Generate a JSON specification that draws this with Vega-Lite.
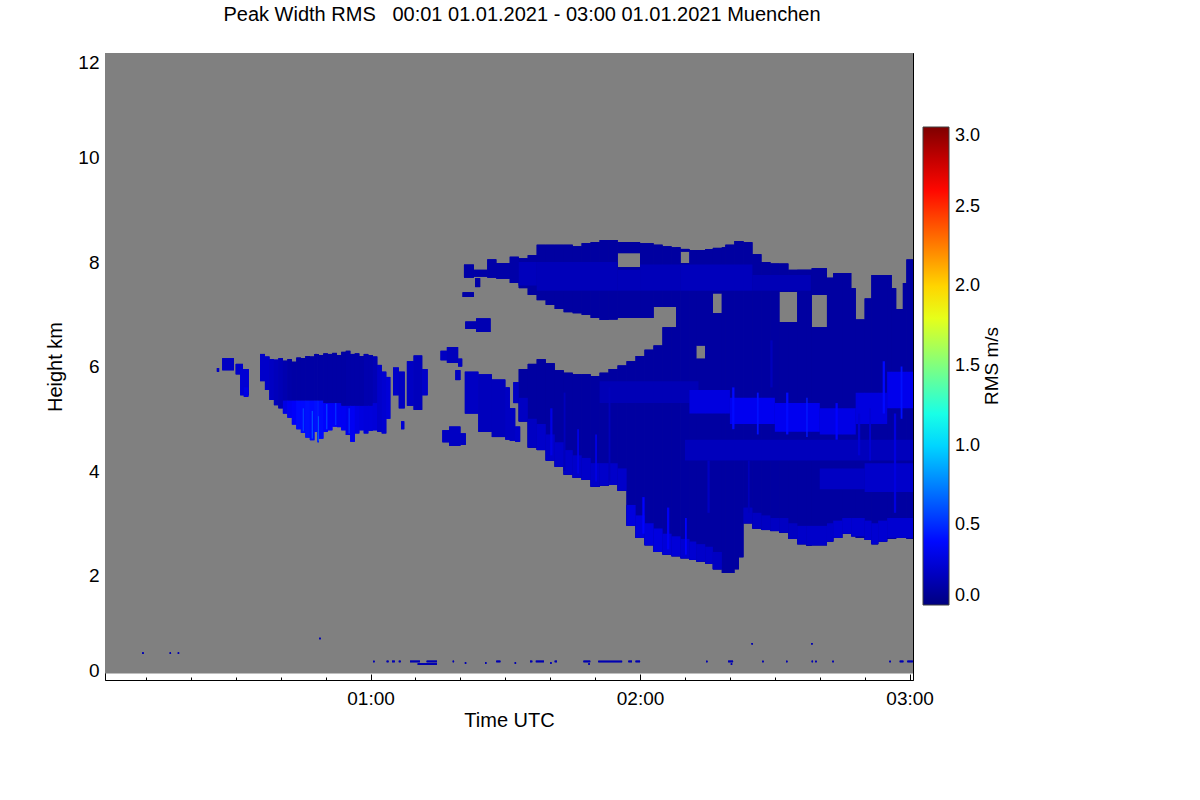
{
  "$schema": "https://vega.github.io/schema/vega-lite/v6.json",
  "description": "Peak Width RMS time-height plot, Muenchen 01.01.2021",
  "width": 808,
  "height": 627,
  "autosize": "none",
  "padding": {"left": 105, "top": 53, "right": 287, "bottom": 120},
  "background": "white",
  "title": {
    "text": "Peak Width RMS\u00a0\u00a0\u00a000:01 01.01.2021 - 03:00 01.01.2021 Muenchen",
    "font": "Liberation Sans",
    "fontSize": 20,
    "fontWeight": "normal",
    "color": "black",
    "anchor": "middle",
    "frame": "group",
    "baseline": "alphabetic",
    "offset": 12,
    "dx": 13
  },
  "config": {
    "font": "Liberation Sans",
    "view": {"stroke": null},
    "axis": {
      "domainColor": "black",
      "domainWidth": 1,
      "tickColor": "black",
      "tickWidth": 1,
      "labelColor": "black",
      "titleColor": "black",
      "labelFont": "Liberation Sans",
      "titleFont": "Liberation Sans",
      "titleFontWeight": "normal",
      "grid": false
    }
  },
  "datasets": {
    "cloud": [
      {"t0": 27.0, "t1": 29.6, "h0": 5.93, "h1": 6.16, "v": 0.2},
      {"t0": 25.8, "t1": 26.3, "h0": 5.9, "h1": 5.97, "v": 0.2},
      {"t0": 30.0, "t1": 31.6, "h0": 5.85, "h1": 6.05, "v": 0.22},
      {"t0": 31.0, "t1": 32.9, "h0": 5.45, "h1": 5.95, "v": 0.25},
      {"t0": 31.8, "t1": 32.8, "h0": 5.42, "h1": 5.6, "v": 0.3},

      {"t0": 35.4, "t1": 36.5, "h0": 5.72, "h1": 6.24, "v": 0.22},
      {"t0": 36.5, "t1": 37.5, "h0": 5.55, "h1": 6.19, "v": 0.22},
      {"t0": 37.5, "t1": 38.5, "h0": 5.36, "h1": 6.14, "v": 0.2},
      {"t0": 38.5, "t1": 39.5, "h0": 5.26, "h1": 6.13, "v": 0.18},
      {"t0": 39.5, "t1": 40.5, "h0": 5.2, "h1": 6.16, "v": 0.16},
      {"t0": 40.5, "t1": 41.5, "h0": 5.1, "h1": 5.35, "v": 0.3},
      {"t0": 40.5, "t1": 41.5, "h0": 5.35, "h1": 6.11, "v": 0.14},
      {"t0": 41.5, "t1": 42.5, "h0": 5.02, "h1": 5.35, "v": 0.34},
      {"t0": 41.5, "t1": 42.5, "h0": 5.35, "h1": 6.14, "v": 0.12},
      {"t0": 42.5, "t1": 43.5, "h0": 4.89, "h1": 5.35, "v": 0.36},
      {"t0": 42.5, "t1": 43.5, "h0": 5.35, "h1": 6.09, "v": 0.11},
      {"t0": 43.5, "t1": 44.5, "h0": 4.8, "h1": 5.35, "v": 0.4},
      {"t0": 43.5, "t1": 44.5, "h0": 5.35, "h1": 6.17, "v": 0.11},
      {"t0": 44.5, "t1": 45.5, "h0": 4.73, "h1": 5.35, "v": 0.4},
      {"t0": 44.5, "t1": 45.5, "h0": 5.35, "h1": 6.16, "v": 0.11},
      {"t0": 45.5, "t1": 46.5, "h0": 4.64, "h1": 5.35, "v": 0.42},
      {"t0": 45.5, "t1": 46.5, "h0": 5.35, "h1": 6.2, "v": 0.11},
      {"t0": 46.5, "t1": 47.5, "h0": 4.59, "h1": 5.35, "v": 0.4},
      {"t0": 46.5, "t1": 47.5, "h0": 5.35, "h1": 6.19, "v": 0.11},
      {"t0": 47.5, "t1": 48.2, "h0": 4.75, "h1": 5.35, "v": 0.42},
      {"t0": 47.5, "t1": 48.2, "h0": 5.35, "h1": 6.24, "v": 0.11},
      {"t0": 48.2, "t1": 48.5, "h0": 4.55, "h1": 5.35, "v": 0.45},
      {"t0": 48.2, "t1": 48.5, "h0": 5.35, "h1": 6.24, "v": 0.11},
      {"t0": 48.5, "t1": 49.5, "h0": 4.62, "h1": 5.35, "v": 0.4},
      {"t0": 48.5, "t1": 49.5, "h0": 5.35, "h1": 6.22, "v": 0.11},
      {"t0": 49.5, "t1": 50.5, "h0": 4.75, "h1": 5.3, "v": 0.38},
      {"t0": 49.5, "t1": 50.5, "h0": 5.3, "h1": 6.25, "v": 0.11},
      {"t0": 50.5, "t1": 51.5, "h0": 4.78, "h1": 5.3, "v": 0.36},
      {"t0": 50.5, "t1": 51.5, "h0": 5.3, "h1": 6.24, "v": 0.11},
      {"t0": 51.5, "t1": 52.5, "h0": 4.85, "h1": 5.3, "v": 0.36},
      {"t0": 51.5, "t1": 52.5, "h0": 5.3, "h1": 6.26, "v": 0.11},
      {"t0": 52.5, "t1": 53.5, "h0": 4.84, "h1": 5.3, "v": 0.34},
      {"t0": 52.5, "t1": 53.5, "h0": 5.3, "h1": 6.22, "v": 0.11},
      {"t0": 53.5, "t1": 54.5, "h0": 4.78, "h1": 5.25, "v": 0.34},
      {"t0": 53.5, "t1": 54.5, "h0": 5.25, "h1": 6.28, "v": 0.11},
      {"t0": 54.5, "t1": 55.5, "h0": 4.69, "h1": 5.25, "v": 0.32},
      {"t0": 54.5, "t1": 55.5, "h0": 5.25, "h1": 6.3, "v": 0.12},
      {"t0": 55.5, "t1": 56.5, "h0": 4.56, "h1": 5.25, "v": 0.34},
      {"t0": 55.5, "t1": 56.5, "h0": 5.25, "h1": 6.24, "v": 0.12},
      {"t0": 56.5, "t1": 57.5, "h0": 4.72, "h1": 5.25, "v": 0.3},
      {"t0": 56.5, "t1": 57.5, "h0": 5.25, "h1": 6.25, "v": 0.12},
      {"t0": 57.5, "t1": 58.5, "h0": 4.78, "h1": 5.25, "v": 0.28},
      {"t0": 57.5, "t1": 58.5, "h0": 5.25, "h1": 6.2, "v": 0.12},
      {"t0": 58.5, "t1": 59.5, "h0": 4.72, "h1": 5.25, "v": 0.27},
      {"t0": 58.5, "t1": 59.5, "h0": 5.25, "h1": 6.24, "v": 0.14},
      {"t0": 59.5, "t1": 60.5, "h0": 4.77, "h1": 5.25, "v": 0.27},
      {"t0": 59.5, "t1": 60.5, "h0": 5.25, "h1": 6.22, "v": 0.14},
      {"t0": 60.5, "t1": 61.5, "h0": 4.78, "h1": 5.3, "v": 0.26},
      {"t0": 60.5, "t1": 61.5, "h0": 5.3, "h1": 6.19, "v": 0.16},
      {"t0": 61.5, "t1": 62.5, "h0": 4.75, "h1": 6.03, "v": 0.22},
      {"t0": 62.5, "t1": 63.5, "h0": 4.72, "h1": 5.9, "v": 0.24},
      {"t0": 63.5, "t1": 64.4, "h0": 5.0, "h1": 5.8, "v": 0.26},
      {"t0": 44.9, "t1": 45.2, "h0": 4.76, "h1": 5.2, "v": 0.55},
      {"t0": 46.9, "t1": 47.2, "h0": 4.62, "h1": 5.15, "v": 0.6},
      {"t0": 48.3, "t1": 48.5, "h0": 4.58, "h1": 5.05, "v": 0.65},
      {"t0": 50.1, "t1": 50.4, "h0": 4.8, "h1": 5.28, "v": 0.55},
      {"t0": 52.1, "t1": 52.4, "h0": 4.88, "h1": 5.3, "v": 0.5},
      {"t0": 55.1, "t1": 55.4, "h0": 4.72, "h1": 5.2, "v": 0.5},

      {"t0": 65.0, "t1": 66.3, "h0": 5.45, "h1": 5.98, "v": 0.22},
      {"t0": 66.3, "t1": 67.6, "h0": 5.2, "h1": 5.9, "v": 0.2},
      {"t0": 66.8, "t1": 67.5, "h0": 4.8, "h1": 4.95, "v": 0.25},
      {"t0": 68.1, "t1": 69.6, "h0": 5.25, "h1": 6.1, "v": 0.2},
      {"t0": 69.6, "t1": 71.5, "h0": 5.17, "h1": 6.21, "v": 0.18},
      {"t0": 71.5, "t1": 72.7, "h0": 5.45, "h1": 5.95, "v": 0.22},
      {"t0": 75.6, "t1": 77.0, "h0": 6.12, "h1": 6.3, "v": 0.2},
      {"t0": 77.0, "t1": 79.5, "h0": 6.07, "h1": 6.37, "v": 0.18},
      {"t0": 79.5, "t1": 80.4, "h0": 6.0, "h1": 6.15, "v": 0.2},
      {"t0": 78.9, "t1": 80.0, "h0": 5.74, "h1": 5.93, "v": 0.2},
      {"t0": 76.0, "t1": 77.5, "h0": 4.55, "h1": 4.78, "v": 0.2},
      {"t0": 77.5, "t1": 80.0, "h0": 4.48, "h1": 4.85, "v": 0.2},
      {"t0": 80.0, "t1": 81.2, "h0": 4.5, "h1": 4.72, "v": 0.2},
      {"t0": 81.1, "t1": 83.5, "h0": 6.72, "h1": 6.86, "v": 0.15},
      {"t0": 83.5, "t1": 86.7, "h0": 6.66, "h1": 6.92, "v": 0.15},
      {"t0": 81.0, "t1": 84.0, "h0": 5.1, "h1": 5.9, "v": 0.2},
      {"t0": 84.0, "t1": 87.0, "h0": 4.75, "h1": 5.85, "v": 0.18},
      {"t0": 87.0, "t1": 90.0, "h0": 4.65, "h1": 5.75, "v": 0.18},
      {"t0": 90.0, "t1": 91.0, "h0": 4.6, "h1": 5.6, "v": 0.2},
      {"t0": 91.0, "t1": 92.2, "h0": 4.58, "h1": 5.2, "v": 0.2},
      {"t0": 92.2, "t1": 93.3, "h0": 4.56, "h1": 4.85, "v": 0.22},

      {"t0": 80.8, "t1": 83, "h0": 7.7, "h1": 7.95, "v": 0.12},
      {"t0": 80.5, "t1": 83, "h0": 7.33, "h1": 7.42, "v": 0.12},
      {"t0": 83, "t1": 86, "h0": 7.72, "h1": 7.85, "v": 0.12},
      {"t0": 83.3, "t1": 84.4, "h0": 7.52, "h1": 7.69, "v": 0.12},
      {"t0": 86, "t1": 88, "h0": 7.7, "h1": 8.05, "v": 0.12},
      {"t0": 88, "t1": 91, "h0": 7.68, "h1": 7.98, "v": 0.12},
      {"t0": 91, "t1": 93, "h0": 7.6, "h1": 8.1, "v": 0.12},
      {"t0": 93, "t1": 95, "h0": 7.5, "h1": 8.07, "v": 0.1},
      {"t0": 95, "t1": 97, "h0": 7.37, "h1": 8.13, "v": 0.1},
      {"t0": 97, "t1": 99, "h0": 7.27, "h1": 8.33, "v": 0.1},
      {"t0": 99, "t1": 101, "h0": 7.18, "h1": 8.33, "v": 0.1},
      {"t0": 101, "t1": 103, "h0": 7.1, "h1": 8.33, "v": 0.1},
      {"t0": 103, "t1": 105, "h0": 7.04, "h1": 8.33, "v": 0.1},
      {"t0": 105, "t1": 107, "h0": 7.02, "h1": 8.3, "v": 0.1},
      {"t0": 107, "t1": 109, "h0": 6.99, "h1": 8.36, "v": 0.1},
      {"t0": 109, "t1": 111, "h0": 6.93, "h1": 8.38, "v": 0.1},
      {"t0": 111, "t1": 113, "h0": 6.89, "h1": 8.42, "v": 0.1},
      {"t0": 113, "t1": 115, "h0": 6.9, "h1": 8.42, "v": 0.1},
      {"t0": 115, "t1": 120, "h0": 6.93, "h1": 7.9, "v": 0.1},
      {"t0": 115, "t1": 120, "h0": 8.17, "h1": 8.38, "v": 0.1},
      {"t0": 120, "t1": 123, "h0": 6.93, "h1": 8.36, "v": 0.1},
      {"t0": 123, "t1": 125, "h0": 7.14, "h1": 8.33, "v": 0.1},

      {"t0": 91.8, "t1": 93, "h0": 5.3, "h1": 5.7, "v": 0.2},
      {"t0": 93, "t1": 95, "h0": 4.95, "h1": 5.95, "v": 0.1},
      {"t0": 95, "t1": 97, "h0": 4.45, "h1": 6.05, "v": 0.1},
      {"t0": 97, "t1": 99, "h0": 4.4, "h1": 6.14, "v": 0.1},
      {"t0": 99, "t1": 101, "h0": 4.2, "h1": 6.06, "v": 0.1},
      {"t0": 101, "t1": 103, "h0": 4.08, "h1": 5.93, "v": 0.1},
      {"t0": 103, "t1": 105, "h0": 3.93, "h1": 5.88, "v": 0.1},
      {"t0": 105, "t1": 107, "h0": 3.87, "h1": 5.85, "v": 0.1},
      {"t0": 107, "t1": 109, "h0": 3.83, "h1": 5.85, "v": 0.1},
      {"t0": 109, "t1": 111, "h0": 3.7, "h1": 5.82, "v": 0.1},
      {"t0": 111, "t1": 113, "h0": 3.72, "h1": 5.88, "v": 0.1},
      {"t0": 113, "t1": 115, "h0": 3.73, "h1": 5.95, "v": 0.1},
      {"t0": 115, "t1": 117, "h0": 3.62, "h1": 6.02, "v": 0.1},
      {"t0": 117, "t1": 119, "h0": 2.95, "h1": 6.1, "v": 0.1},
      {"t0": 119, "t1": 121, "h0": 2.72, "h1": 6.2, "v": 0.1},
      {"t0": 121, "t1": 123, "h0": 2.58, "h1": 6.32, "v": 0.1},
      {"t0": 123, "t1": 125, "h0": 2.45, "h1": 6.4, "v": 0.1},

      {"t0": 125, "t1": 127, "h0": 2.4, "h1": 6.75, "v": 0.1},
      {"t0": 125, "t1": 127, "h0": 7.14, "h1": 8.3, "v": 0.1},
      {"t0": 127, "t1": 128, "h0": 2.37, "h1": 6.75, "v": 0.1},
      {"t0": 127, "t1": 128, "h0": 7.14, "h1": 8.28, "v": 0.1},
      {"t0": 128, "t1": 129, "h0": 2.37, "h1": 8.28, "v": 0.1},
      {"t0": 129, "t1": 131, "h0": 2.33, "h1": 7.98, "v": 0.1},
      {"t0": 129, "t1": 131, "h0": 8.2, "h1": 8.25, "v": 0.1},
      {"t0": 131, "t1": 132.5, "h0": 2.3, "h1": 8.23, "v": 0.1},
      {"t0": 132.5, "t1": 134.5, "h0": 2.27, "h1": 6.15, "v": 0.1},
      {"t0": 132.5, "t1": 134.5, "h0": 6.4, "h1": 8.23, "v": 0.1},
      {"t0": 134.5, "t1": 136.2, "h0": 2.22, "h1": 8.25, "v": 0.1},
      {"t0": 136.2, "t1": 138.2, "h0": 2.12, "h1": 7.02, "v": 0.1},
      {"t0": 136.2, "t1": 138.2, "h0": 7.4, "h1": 8.27, "v": 0.1},
      {"t0": 138.2, "t1": 139, "h0": 2.05, "h1": 8.28, "v": 0.1},
      {"t0": 139, "t1": 141, "h0": 2.05, "h1": 8.33, "v": 0.1},
      {"t0": 141, "t1": 142, "h0": 2.12, "h1": 8.4, "v": 0.1},
      {"t0": 142, "t1": 143, "h0": 2.35, "h1": 8.4, "v": 0.1},
      {"t0": 143, "t1": 145, "h0": 3.0, "h1": 8.38, "v": 0.1},
      {"t0": 145, "t1": 147, "h0": 2.9, "h1": 8.15, "v": 0.1},
      {"t0": 147, "t1": 149, "h0": 2.87, "h1": 8.0, "v": 0.1},
      {"t0": 149, "t1": 151, "h0": 2.85, "h1": 7.97, "v": 0.1},
      {"t0": 151, "t1": 153, "h0": 2.82, "h1": 6.85, "v": 0.1},
      {"t0": 151, "t1": 153, "h0": 7.43, "h1": 7.97, "v": 0.1},
      {"t0": 153, "t1": 155, "h0": 2.7, "h1": 6.85, "v": 0.1},
      {"t0": 153, "t1": 155, "h0": 7.43, "h1": 7.85, "v": 0.1},
      {"t0": 155, "t1": 157, "h0": 2.6, "h1": 7.85, "v": 0.1},
      {"t0": 157, "t1": 158.2, "h0": 2.57, "h1": 7.85, "v": 0.1},
      {"t0": 158.2, "t1": 161.6, "h0": 2.58, "h1": 6.75, "v": 0.1},
      {"t0": 158.2, "t1": 161.6, "h0": 7.37, "h1": 7.88, "v": 0.1},
      {"t0": 161.6, "t1": 163, "h0": 2.65, "h1": 7.7, "v": 0.1},
      {"t0": 163, "t1": 165, "h0": 2.72, "h1": 7.79, "v": 0.1},
      {"t0": 165, "t1": 167, "h0": 2.8, "h1": 7.79, "v": 0.1},
      {"t0": 167, "t1": 168, "h0": 2.75, "h1": 7.5, "v": 0.1},
      {"t0": 168, "t1": 170, "h0": 2.72, "h1": 6.9, "v": 0.1},
      {"t0": 170, "t1": 171.5, "h0": 2.68, "h1": 7.3, "v": 0.1},
      {"t0": 171.5, "t1": 173, "h0": 2.6, "h1": 7.75, "v": 0.1},
      {"t0": 173, "t1": 175, "h0": 2.65, "h1": 7.75, "v": 0.1},
      {"t0": 175, "t1": 176, "h0": 2.7, "h1": 7.75, "v": 0.1},
      {"t0": 176, "t1": 177, "h0": 2.7, "h1": 7.5, "v": 0.1},
      {"t0": 177, "t1": 178.5, "h0": 2.72, "h1": 7.1, "v": 0.1},
      {"t0": 178.5, "t1": 179.3, "h0": 2.72, "h1": 7.6, "v": 0.1},
      {"t0": 179.3, "t1": 180.75, "h0": 2.7, "h1": 8.05, "v": 0.1},

      {"t0": 93, "t1": 95, "h0": 4.95, "h1": 5.4, "v": 0.2},
      {"t0": 95, "t1": 97, "h0": 4.45, "h1": 5.0, "v": 0.2},
      {"t0": 97, "t1": 99, "h0": 4.4, "h1": 4.9, "v": 0.22},
      {"t0": 99, "t1": 101, "h0": 4.2, "h1": 4.7, "v": 0.22},
      {"t0": 101, "t1": 103, "h0": 4.08, "h1": 4.55, "v": 0.22},
      {"t0": 103, "t1": 105, "h0": 3.93, "h1": 4.4, "v": 0.22},
      {"t0": 105, "t1": 107, "h0": 3.87, "h1": 4.3, "v": 0.22},
      {"t0": 107, "t1": 109, "h0": 3.83, "h1": 4.25, "v": 0.22},
      {"t0": 109, "t1": 111, "h0": 3.7, "h1": 4.15, "v": 0.22},
      {"t0": 111, "t1": 113, "h0": 3.72, "h1": 4.15, "v": 0.22},
      {"t0": 113, "t1": 115, "h0": 3.73, "h1": 4.15, "v": 0.22},
      {"t0": 115, "t1": 117, "h0": 3.62, "h1": 4.05, "v": 0.22},
      {"t0": 117, "t1": 119, "h0": 2.95, "h1": 3.35, "v": 0.28},
      {"t0": 119, "t1": 121, "h0": 2.72, "h1": 3.15, "v": 0.28},
      {"t0": 121, "t1": 123, "h0": 2.58, "h1": 3.0, "v": 0.28},
      {"t0": 123, "t1": 125, "h0": 2.45, "h1": 2.9, "v": 0.28},
      {"t0": 125, "t1": 127, "h0": 2.4, "h1": 2.8, "v": 0.26},
      {"t0": 127, "t1": 129, "h0": 2.37, "h1": 2.75, "v": 0.26},
      {"t0": 129, "t1": 131, "h0": 2.33, "h1": 2.7, "v": 0.24},
      {"t0": 131, "t1": 132.5, "h0": 2.3, "h1": 2.65, "v": 0.24},
      {"t0": 132.5, "t1": 134.5, "h0": 2.27, "h1": 2.6, "v": 0.22},
      {"t0": 134.5, "t1": 136.2, "h0": 2.22, "h1": 2.55, "v": 0.22},
      {"t0": 136.2, "t1": 138.2, "h0": 2.12, "h1": 2.45, "v": 0.2},
      {"t0": 143, "t1": 145, "h0": 3.0, "h1": 3.3, "v": 0.2},
      {"t0": 145, "t1": 147, "h0": 2.9, "h1": 3.2, "v": 0.2},
      {"t0": 147, "t1": 149, "h0": 2.87, "h1": 3.15, "v": 0.2},
      {"t0": 149, "t1": 151, "h0": 2.85, "h1": 3.1, "v": 0.2},
      {"t0": 151, "t1": 153, "h0": 2.82, "h1": 3.1, "v": 0.2},
      {"t0": 153, "t1": 155, "h0": 2.7, "h1": 3.0, "v": 0.2},
      {"t0": 155, "t1": 157, "h0": 2.6, "h1": 2.95, "v": 0.22},
      {"t0": 157, "t1": 161.6, "h0": 2.58, "h1": 2.95, "v": 0.22},
      {"t0": 161.6, "t1": 163, "h0": 2.65, "h1": 3.0, "v": 0.22},
      {"t0": 163, "t1": 165, "h0": 2.72, "h1": 3.05, "v": 0.24},
      {"t0": 165, "t1": 167, "h0": 2.8, "h1": 3.1, "v": 0.24},
      {"t0": 167, "t1": 170, "h0": 2.75, "h1": 3.1, "v": 0.24},
      {"t0": 170, "t1": 171.5, "h0": 2.68, "h1": 3.05, "v": 0.24},
      {"t0": 171.5, "t1": 173, "h0": 2.6, "h1": 3.0, "v": 0.24},
      {"t0": 173, "t1": 175, "h0": 2.65, "h1": 3.05, "v": 0.24},
      {"t0": 175, "t1": 180.75, "h0": 2.72, "h1": 3.1, "v": 0.24},

      {"t0": 111, "t1": 133, "h0": 5.3, "h1": 5.72, "v": 0.16},
      {"t0": 131, "t1": 140, "h0": 5.1, "h1": 5.55, "v": 0.28},
      {"t0": 140, "t1": 150, "h0": 4.9, "h1": 5.4, "v": 0.33},
      {"t0": 150, "t1": 160, "h0": 4.75, "h1": 5.3, "v": 0.33},
      {"t0": 160, "t1": 168, "h0": 4.7, "h1": 5.2, "v": 0.3},
      {"t0": 168, "t1": 175, "h0": 4.9, "h1": 5.5, "v": 0.28},
      {"t0": 175, "t1": 180.75, "h0": 5.2, "h1": 5.9, "v": 0.32},
      {"t0": 130, "t1": 180.75, "h0": 4.2, "h1": 4.6, "v": 0.18},
      {"t0": 160, "t1": 170, "h0": 3.65, "h1": 4.05, "v": 0.2},
      {"t0": 170, "t1": 180.75, "h0": 3.6, "h1": 4.15, "v": 0.22},
      {"t0": 93, "t1": 97, "h0": 7.55, "h1": 8.0, "v": 0.18},
      {"t0": 97, "t1": 115, "h0": 7.45, "h1": 8.0, "v": 0.17},
      {"t0": 115, "t1": 120, "h0": 7.45, "h1": 7.85, "v": 0.17},
      {"t0": 120, "t1": 129, "h0": 7.45, "h1": 7.95, "v": 0.17},
      {"t0": 129, "t1": 145, "h0": 7.45, "h1": 7.95, "v": 0.18},
      {"t0": 145, "t1": 158, "h0": 7.45, "h1": 7.75, "v": 0.16},
      {"t0": 140.5, "t1": 141, "h0": 4.8, "h1": 5.6, "v": 0.4},
      {"t0": 146, "t1": 146.4, "h0": 4.7, "h1": 5.5, "v": 0.42},
      {"t0": 152.5, "t1": 153, "h0": 4.7, "h1": 5.5, "v": 0.4},
      {"t0": 157, "t1": 157.3, "h0": 4.65, "h1": 5.4, "v": 0.45},
      {"t0": 163.5, "t1": 164, "h0": 4.6, "h1": 5.3, "v": 0.38},
      {"t0": 174, "t1": 174.5, "h0": 5.1, "h1": 6.1, "v": 0.4},
      {"t0": 178, "t1": 178.4, "h0": 5.0, "h1": 6.0, "v": 0.42},
      {"t0": 120.5, "t1": 121, "h0": 2.8, "h1": 3.5, "v": 0.38},
      {"t0": 126, "t1": 126.5, "h0": 2.5, "h1": 3.3, "v": 0.35},
      {"t0": 130, "t1": 130.4, "h0": 2.4, "h1": 3.1, "v": 0.38},
      {"t0": 100, "t1": 100.5, "h0": 4.3, "h1": 5.2, "v": 0.3},
      {"t0": 106, "t1": 106.4, "h0": 3.95, "h1": 4.8, "v": 0.3},
      {"t0": 110, "t1": 110.4, "h0": 3.8, "h1": 4.7, "v": 0.3},
      {"t0": 103, "t1": 103.4, "h0": 4.0, "h1": 5.5, "v": 0.18},
      {"t0": 113, "t1": 113.4, "h0": 3.8, "h1": 5.6, "v": 0.18},
      {"t0": 135, "t1": 135.5, "h0": 3.2, "h1": 4.2, "v": 0.2},
      {"t0": 144, "t1": 144.4, "h0": 3.2, "h1": 4.2, "v": 0.18},
      {"t0": 149, "t1": 149.5, "h0": 5.6, "h1": 6.5, "v": 0.18},
      {"t0": 168.5, "t1": 169, "h0": 4.3, "h1": 5.1, "v": 0.25},
      {"t0": 171, "t1": 171.4, "h0": 4.2, "h1": 5.2, "v": 0.25},
      {"t0": 176.5, "t1": 177, "h0": 3.2, "h1": 5.1, "v": 0.28},

      {"t0": 9.2, "t1": 9.5, "h0": 0.5, "h1": 0.53, "v": 0.15},
      {"t0": 15.3, "t1": 15.6, "h0": 0.5, "h1": 0.53, "v": 0.15},
      {"t0": 17.1, "t1": 17.4, "h0": 0.5, "h1": 0.53, "v": 0.15},
      {"t0": 48.6, "t1": 48.9, "h0": 0.78, "h1": 0.81, "v": 0.15},
      {"t0": 60.6, "t1": 60.9, "h0": 0.34, "h1": 0.37, "v": 0.15},
      {"t0": 63.6, "t1": 64.0, "h0": 0.34, "h1": 0.37, "v": 0.15},
      {"t0": 64.8, "t1": 65.4, "h0": 0.34, "h1": 0.37, "v": 0.15},
      {"t0": 66.3, "t1": 66.7, "h0": 0.34, "h1": 0.37, "v": 0.15},
      {"t0": 68.8, "t1": 71.0, "h0": 0.34, "h1": 0.37, "v": 0.15},
      {"t0": 70.5, "t1": 74.8, "h0": 0.29, "h1": 0.32, "v": 0.15},
      {"t0": 72.5, "t1": 74.8, "h0": 0.34, "h1": 0.37, "v": 0.15},
      {"t0": 78.3, "t1": 78.6, "h0": 0.34, "h1": 0.37, "v": 0.15},
      {"t0": 81.0, "t1": 81.3, "h0": 0.31, "h1": 0.34, "v": 0.15},
      {"t0": 85.5, "t1": 85.8, "h0": 0.31, "h1": 0.34, "v": 0.15},
      {"t0": 88.0, "t1": 88.9, "h0": 0.34, "h1": 0.37, "v": 0.15},
      {"t0": 92.1, "t1": 92.4, "h0": 0.31, "h1": 0.34, "v": 0.15},
      {"t0": 95.5, "t1": 96.0, "h0": 0.34, "h1": 0.37, "v": 0.15},
      {"t0": 96.8, "t1": 98.6, "h0": 0.34, "h1": 0.37, "v": 0.15},
      {"t0": 100.0, "t1": 100.3, "h0": 0.31, "h1": 0.34, "v": 0.15},
      {"t0": 101.0, "t1": 101.5, "h0": 0.34, "h1": 0.37, "v": 0.15},
      {"t0": 107.4, "t1": 108.9, "h0": 0.34, "h1": 0.37, "v": 0.15},
      {"t0": 108.5, "t1": 108.8, "h0": 0.29, "h1": 0.32, "v": 0.15},
      {"t0": 110.7, "t1": 116.0, "h0": 0.34, "h1": 0.37, "v": 0.15},
      {"t0": 117.4, "t1": 118.2, "h0": 0.34, "h1": 0.37, "v": 0.15},
      {"t0": 119.0, "t1": 120.0, "h0": 0.34, "h1": 0.37, "v": 0.15},
      {"t0": 134.7, "t1": 135.0, "h0": 0.34, "h1": 0.37, "v": 0.15},
      {"t0": 139.6, "t1": 140.7, "h0": 0.34, "h1": 0.37, "v": 0.15},
      {"t0": 140.2, "t1": 140.5, "h0": 0.29, "h1": 0.32, "v": 0.15},
      {"t0": 144.8, "t1": 145.1, "h0": 0.68, "h1": 0.71, "v": 0.15},
      {"t0": 147.2, "t1": 147.5, "h0": 0.34, "h1": 0.37, "v": 0.15},
      {"t0": 152.5, "t1": 152.8, "h0": 0.34, "h1": 0.37, "v": 0.15},
      {"t0": 158.1, "t1": 158.4, "h0": 0.68, "h1": 0.71, "v": 0.15},
      {"t0": 158.2, "t1": 158.5, "h0": 0.34, "h1": 0.37, "v": 0.15},
      {"t0": 159.0, "t1": 159.3, "h0": 0.34, "h1": 0.37, "v": 0.15},
      {"t0": 162.8, "t1": 163.1, "h0": 0.34, "h1": 0.37, "v": 0.15},
      {"t0": 175.5, "t1": 175.8, "h0": 0.34, "h1": 0.37, "v": 0.15},
      {"t0": 177.8, "t1": 178.6, "h0": 0.34, "h1": 0.37, "v": 0.15},
      {"t0": 179.5, "t1": 180.7, "h0": 0.34, "h1": 0.37, "v": 0.15}
    ]
  },
  "layer": [
    {
      "data": {"values": [{"t0": 0.9, "t1": 180.75, "h0": 0.125, "h1": 12}]},
      "mark": {"type": "rect", "color": "#808080"},
      "encoding": {
        "x": {
          "field": "t0", "type": "quantitative",
          "scale": {"domain": [0.9, 180.75], "nice": false, "zero": false},
          "axis": {
            "orient": "bottom",
            "title": "Time UTC",
            "titleFontSize": 20,
            "titlePadding": -1,
            "values": [10, 20, 30, 40, 50, 60, 70, 80, 90, 100, 110, 120, 130, 140, 150, 160, 170, 180],
            "labelExpr": "datum.value % 60 === 0 ? '0' + (datum.value / 60) + ':00' : ''",
            "labelFontSize": 19,
            "labelPadding": 15,
            "labelOverlap": false,
            "labelFlush": false,
            "tickSize": {"condition": {"test": "datum.value % 60 === 0", "value": -6}, "value": -3}
          }
        },
        "x2": {"field": "t1"},
        "y": {
          "field": "h0", "type": "quantitative",
          "scale": {"domain": [0, 12], "nice": false, "zero": false},
          "axis": {
            "orient": "left",
            "title": "Height km",
            "titleFontSize": 20,
            "titlePadding": 12,
            "values": [0, 0.5, 1, 1.5, 2, 2.5, 3, 3.5, 4, 4.5, 5, 5.5, 6, 6.5, 7, 7.5, 8, 8.5, 9, 9.5, 10, 10.5, 11, 11.5, 12],
            "labelExpr": "datum.value % 2 === 0 ? '' + datum.value : ''",
            "labelFontSize": 19,
            "labelPadding": 12,
            "labelOverlap": false,
            "labelFlush": true,
            "tickSize": {"condition": {"test": "datum.value % 2 === 0", "value": -6}, "value": -3}
          }
        },
        "y2": {"field": "h1"}
      }
    },
    {
      "data": {"name": "cloud"},
      "mark": {"type": "rect"},
      "encoding": {
        "x": {
          "field": "t0", "type": "quantitative",
          "scale": {"domain": [0.9, 180.75], "nice": false, "zero": false},
          "axis": {
            "orient": "top",
            "title": null,
            "labels": false,
            "values": [10, 20, 30, 40, 50, 60, 70, 80, 90, 100, 110, 120, 130, 140, 150, 160, 170, 180],
            "tickSize": {"condition": {"test": "datum.value % 60 === 0", "value": -6}, "value": -3}
          }
        },
        "x2": {"field": "t1"},
        "y": {
          "field": "h0", "type": "quantitative",
          "scale": {"domain": [0, 12], "nice": false, "zero": false},
          "axis": {
            "orient": "right",
            "title": null,
            "labels": false,
            "values": [0, 0.5, 1, 1.5, 2, 2.5, 3, 3.5, 4, 4.5, 5, 5.5, 6, 6.5, 7, 7.5, 8, 8.5, 9, 9.5, 10, 10.5, 11, 11.5, 12],
            "tickSize": {"condition": {"test": "datum.value % 2 === 0", "value": -6}, "value": -3}
          }
        },
        "y2": {"field": "h1"},
        "color": {
          "field": "v", "type": "quantitative",
          "scale": {
            "type": "linear",
            "domain": [0, 0.375, 1.125, 1.875, 2.625, 3],
            "range": ["#00007f", "#0000ff", "#00ffff", "#ffff00", "#ff0000", "#7f0000"],
            "interpolate": "rgb"
          },
          "legend": {
            "type": "gradient",
            "orient": "none",
            "legendX": 818,
            "legendY": 74,
            "direction": "vertical",
            "gradientLength": 478,
            "gradientThickness": 26,
            "gradientStrokeColor": "#404040",
            "gradientStrokeWidth": 1,
            "values": [0, 0.5, 1, 1.5, 2, 2.5, 3],
            "format": ".1f",
            "labelFont": "Liberation Sans",
            "labelFontSize": 18,
            "labelColor": "black",
            "labelOffset": 6,
            "labelOverlap": false,
            "title": "RMS m/s",
            "titleFont": "Liberation Sans",
            "titleFontSize": 19,
            "titleFontWeight": "normal",
            "titleColor": "black",
            "titleOrient": "right",
            "titleAnchor": "middle",
            "titleAlign": "center",
            "titleBaseline": "top",
            "titlePadding": 3,
            "encode": {"title": {"update": {"angle": {"value": 270}}}}
          }
        }
      }
    },
    {
      "data": {"name": "cloud"},
      "mark": {"type": "rect"},
      "encoding": {
        "x": {"field": "t0", "type": "quantitative", "axis": null},
        "x2": {"field": "t1"},
        "y": {"field": "h0", "type": "quantitative", "axis": null},
        "y2": {"field": "h1"},
        "color": {"field": "v", "type": "quantitative"}
      }
    },
    {
      "data": {"name": "cloud"},
      "mark": {"type": "rect"},
      "encoding": {
        "x": {"field": "t0", "type": "quantitative", "axis": null},
        "x2": {"field": "t1"},
        "y": {"field": "h0", "type": "quantitative", "axis": null},
        "y2": {"field": "h1"},
        "color": {"field": "v", "type": "quantitative"}
      }
    }
  ],
  "resolve": {"axis": {"x": "independent", "y": "independent"}}
}
